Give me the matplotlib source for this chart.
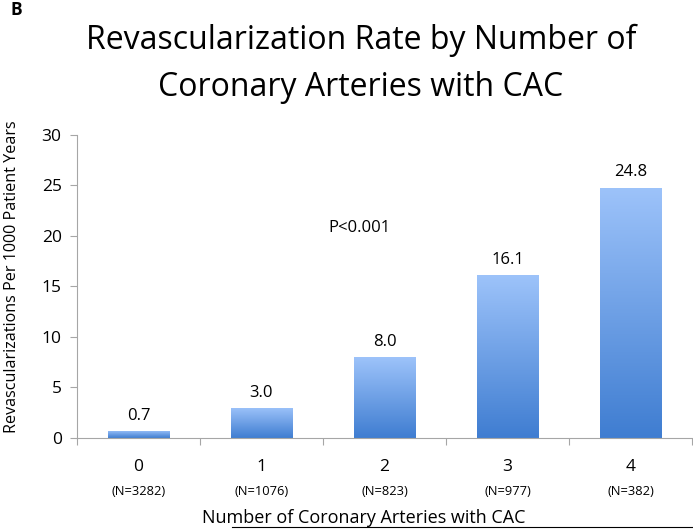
import numpy as np
import matplotlib
matplotlib.use('Agg')
import matplotlib.pyplot as plt
from matplotlib.colors import LinearSegmentedColormap

plt.rcParams['font.family'] = ['Open Sans', 'DejaVu Sans']

# dados
categorias = ['0', '1', '2', '3', '4']
contagens = ['(N=3282)', '(N=1076)', '(N=823)', '(N=977)', '(N=382)']
taxas = [0.7, 3.0, 8.0, 16.1, 24.8]

cor_eixo = '#A6A6A6'
degrade = LinearSegmentedColormap.from_list('azul', ['#3F7DD1', '#9DC3FA'])

fig = plt.figure(figsize=(6.93, 5.30), dpi=100)
ax = fig.add_axes([0.111, 0.1736, 0.8876, 0.5717])

x = np.arange(len(categorias))
barras = ax.bar(x, taxas, width=0.5, color='none', edgecolor='none')

# preenche cada barra com degrade vertical (claro em cima, escuro em baixo)
grad = np.linspace(0, 1, 256).reshape(-1, 1)
for b in barras:
    x0, y0 = b.get_x(), b.get_y()
    w, h = b.get_width(), b.get_height()
    im = ax.imshow(grad, cmap=degrade, origin='lower', aspect='auto',
                   extent=[x0, x0 + w, y0, y0 + h], zorder=2)
    im.set_clip_path(b)

for xi, v in zip(x, taxas):
    ax.text(xi, v + 0.7, f'{v:.1f}', ha='center', va='bottom', fontsize=12)

ax.set_xlim(-0.5, len(categorias) - 0.5)
ax.set_ylim(0, 30)
ax.set_yticks(range(0, 31, 5))
ax.tick_params(axis='y', labelsize=12.5, color=cor_eixo, length=5, direction='out', pad=6)

# ticks do eixo x ficam entre as categorias
ax.set_xticks(np.arange(-0.5, len(categorias) + 0.5, 1))
ax.set_xticklabels([])
ax.tick_params(axis='x', color=cor_eixo, length=5, direction='out')
for xi, c, n in zip(x, categorias, contagens):
    ax.annotate(c, (xi, 0), xytext=(0, -21), textcoords='offset points',
                ha='center', va='center', fontsize=12.5, annotation_clip=False)
    ax.annotate(n, (xi, 0), xytext=(0, -38.5), textcoords='offset points',
                ha='center', va='center', fontsize=9.3, annotation_clip=False)

for s in ['top', 'right']:
    ax.spines[s].set_visible(False)
for s in ['left', 'bottom']:
    ax.spines[s].set_color(cor_eixo)

ax.text(1.8, 20.8, 'P<0.001', ha='center', va='center', fontsize=12)

fig.text(364 / 693, 1 - 518 / 530, 'Number of Coronary Arteries with CAC',
         ha='center', va='center', fontsize=13)
fig.text(12 / 693, 1 - 277 / 530, 'Revascularizations Per 1000 Patient Years',
         rotation=90, ha='center', va='center', fontsize=11.6)

fig.text(361 / 693, 1 - 40 / 530, 'Revascularization Rate by Number of',
         ha='center', va='center', fontsize=23)
fig.text(361 / 693, 1 - 88 / 530, 'Coronary Arteries with CAC',
         ha='center', va='center', fontsize=23)
fig.text(11 / 693, 1 - 10 / 530, 'B', ha='left', va='center', fontsize=12.5, fontweight='bold')

# linha preta no rodape como na figura original
fig.add_artist(plt.Line2D([232 / 693, 1], [1 - 527 / 530] * 2, color='black', lw=0.8))

fig.savefig('out.png', dpi=100)
